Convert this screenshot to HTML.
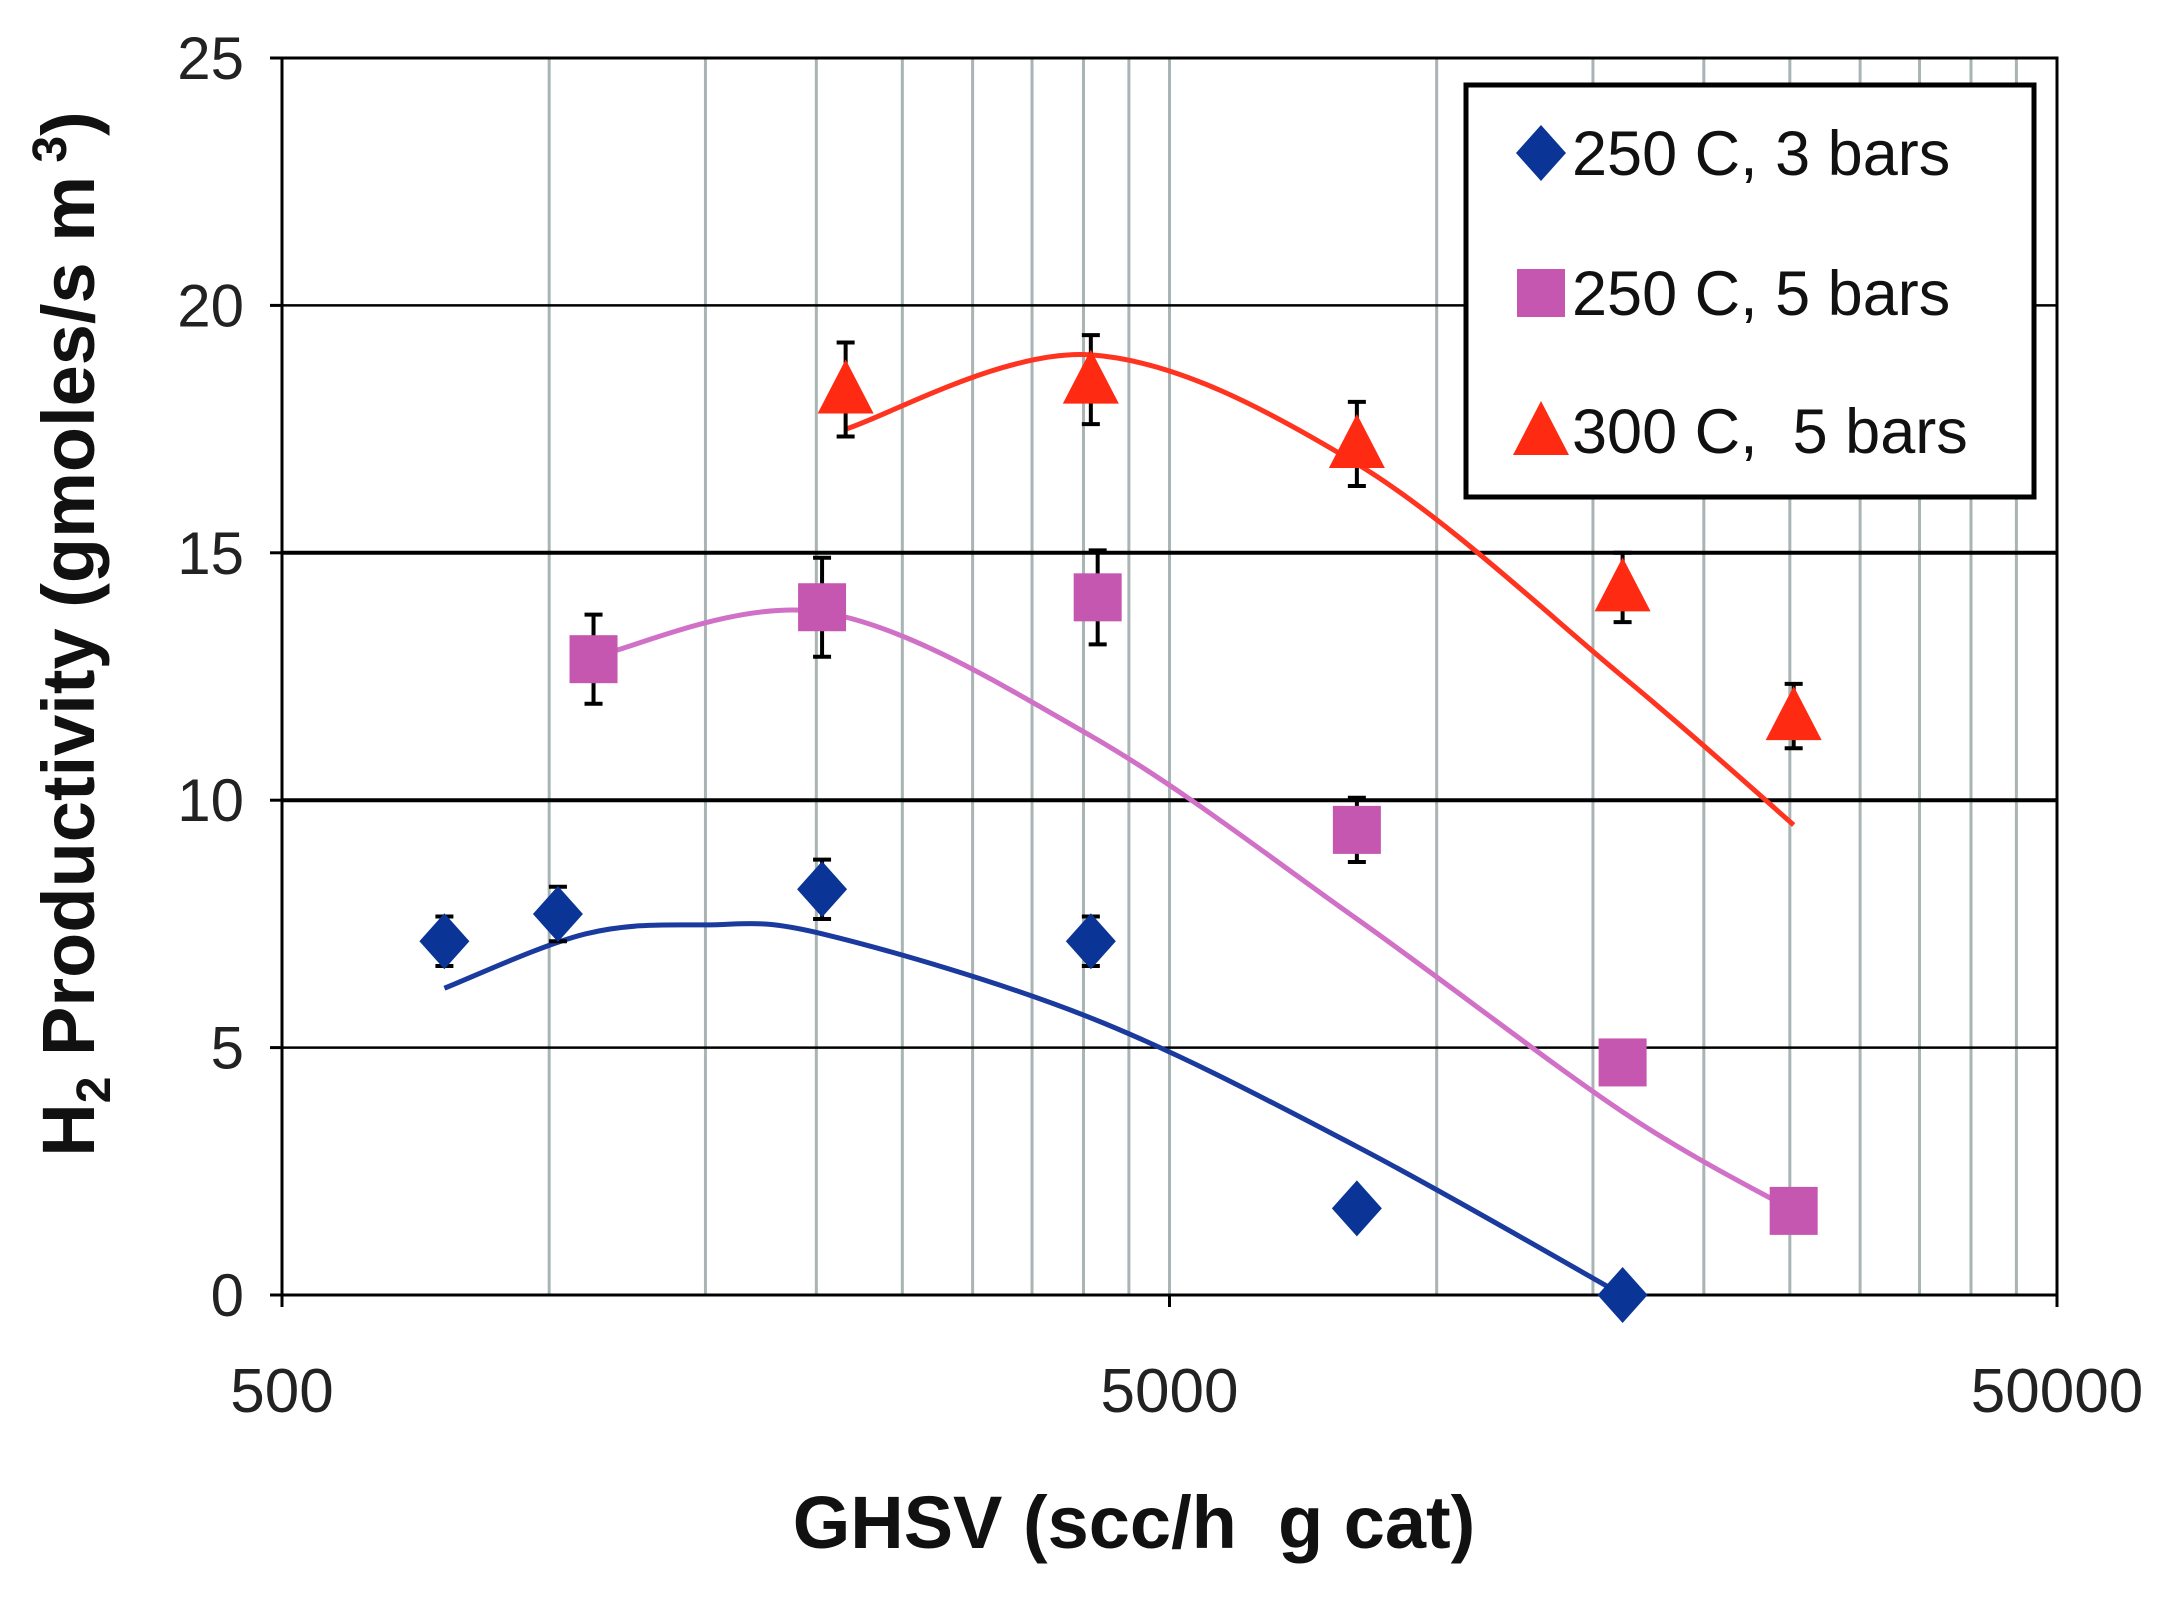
<!DOCTYPE html>
<html><head><meta charset="utf-8"><style>
html,body{margin:0;padding:0;background:#fff;}
svg{display:block;font-family:"Liberation Sans",sans-serif;}
</style></head><body>
<svg id="chart" width="2160" height="1600" viewBox="0 0 2160 1600"></svg>
<script>
const xTicks=[500,5000,50000];
const xTickLabels=["500","5000","50000"];
const yTicks=[0,5,10,15,20,25];
const blueX=[762,1023,2030,4077,8130,16200];
const blueY=[7.15,7.7,8.2,7.15,1.75,0];
const blueErr=[0.5,0.55,0.6,0.5,0,0];
const magX=[1122,2030,4150,8130,16200,25250];
const magY=[12.85,13.9,14.1,9.4,4.7,1.7];
const magErr=[0.9,1.0,0.95,0.65,0,0];
const redX=[2158,4077,8130,16200,25250];
const redY=[18.3,18.5,17.2,14.3,11.7];
const redErr=[0.95,0.9,0.85,0.7,0.65];
const blueCurveX=[762,1100,1500,2030,4077,8130,16200];
const blueCurveY=[6.2,7.3,7.48,7.3,5.6,3.0,0];
const magCurveX=[1122,2030,4077,8130,16200,25250];
const magCurveY=[12.9,13.8,11.3,7.6,3.7,1.7];
const redCurveX=[2158,4077,8130,16200,25250];
const redCurveY=[17.5,19.0,16.8,12.5,9.5];
const gridX=[1000,1500,2000,2500,3000,3500,4000,4500,5000,10000,15000,20000,25000,30000,35000,40000,45000];

const L=282,R=2057,T=58,B=1295;
const NS="http://www.w3.org/2000/svg";
const svg=document.getElementById('chart');
function sx(v){return L+(Math.log10(v)-Math.log10(500))/2*(R-L);}
function sy(v){return B-v/25*(B-T);}
function el(t,a,p){const e=document.createElementNS(NS,t);for(const k in a)e.setAttribute(k,a[k]);(p||svg).appendChild(e);return e;}

const grid=el('g',{});


gridX.forEach(v=>{
  const ln=el('line',{x1:sx(v),x2:sx(v),y1:T,y2:B,stroke:'#a9b4b4','stroke-width':3},grid);
  
  
});
yTicks.forEach(v=>{
  if(v===0||v===25)return;
  const w=(v===10||v===15)?4:2.5;
  const ln=el('line',{x1:L,x2:R,y1:sy(v),y2:sy(v),stroke:'#000','stroke-width':w},grid);
  
  
});
const frame=el('rect',{x:L,y:T,width:R-L,height:B-T,fill:'none',stroke:'#000','stroke-width':3});


yTicks.forEach(v=>{el('line',{x1:L-12,x2:L,y1:sy(v),y2:sy(v),stroke:'#000','stroke-width':3});});
xTicks.forEach(v=>{el('line',{x1:sx(v),x2:sx(v),y1:B,y2:B+12,stroke:'#000','stroke-width':3});});
yTicks.forEach(v=>{
  const t=el('text',{x:L-38,y:sy(v)+21,'text-anchor':'end','font-size':60,fill:'#222'});
  t.textContent=String(v);
  
  
});
xTicks.forEach((v,i)=>{
  const t=el('text',{x:sx(v),y:1412,'text-anchor':'middle','font-size':62,fill:'#222'});
  t.textContent=xTickLabels[i];
  
  
});
const xt=el('text',{x:1134,y:1548,'text-anchor':'middle','font-size':74,'font-weight':'bold',fill:'#111'});
xt.style.whiteSpace='pre';
xt.textContent='GHSV (scc/h  g cat)';


const yt=el('text',{transform:'translate(94,634) rotate(-90)','text-anchor':'middle','font-size':74,'font-weight':'bold',fill:'#111'});
yt.innerHTML='H<tspan font-size="48" dy="16">2</tspan><tspan dy="-16"> Productivity (gmoles/s m</tspan><tspan font-size="48" dy="-28"> 3</tspan><tspan dy="28">)</tspan>';



function curve(xs,ys,color,name){
  const p=xs.map((x,i)=>[sx(x),sy(ys[i])]);
  let d='M'+p[0][0]+','+p[0][1];
  for(let i=0;i<p.length-1;i++){
    const p0=p[Math.max(0,i-1)],p1=p[i],p2=p[i+1],p3=p[Math.min(p.length-1,i+2)];
    const c1=[p1[0]+(p2[0]-p0[0])/6,p1[1]+(p2[1]-p0[1])/6];
    const c2=[p2[0]-(p3[0]-p1[0])/6,p2[1]-(p3[1]-p1[1])/6];
    d+=' C'+c1+' '+c2+' '+p2;
  }
  const e=el('path',{d:d,fill:'none',stroke:color,'stroke-width':5});
  
  
}
curve(blueCurveX,blueCurveY,'#1a3a9e','trend-250c-3bar');
curve(magCurveX,magCurveY,'#d070c6','trend-250c-5bar');
curve(redCurveX,redCurveY,'#ff3420','trend-300c-5bar');

function marker(shape,cx,cy,color,g){
  let e;
  if(shape==='diamond')e=el('polygon',{points:`${cx},${cy-28} ${cx+25},${cy} ${cx},${cy+28} ${cx-25},${cy}`,fill:color},g);
  else if(shape==='square')e=el('rect',{x:cx-24,y:cy-24,width:48,height:48,fill:color},g);
  else e=el('polygon',{points:`${cx},${cy-30} ${cx+28},${cy+24} ${cx-28},${cy+24}`,fill:color},g);
  return e;
}
function series(xs,ys,errs,shape,color,name){
  const g=el('g',{});
  
  
  xs.forEach((x,i)=>{
    const cx=sx(x),cy=sy(ys[i]);
    if(errs[i]>0){
      const e1=sy(ys[i]+errs[i]),e2=sy(ys[i]-errs[i]);
      el('line',{x1:cx,x2:cx,y1:e1,y2:e2,stroke:'#000','stroke-width':4},g);
      el('line',{x1:cx-9,x2:cx+9,y1:e1,y2:e1,stroke:'#000','stroke-width':4},g);
      el('line',{x1:cx-9,x2:cx+9,y1:e2,y2:e2,stroke:'#000','stroke-width':4},g);
    }
    const m=marker(shape,cx,cy,color,g);
    
    
  });
}
series(blueX,blueY,blueErr,'diamond','#0a3597','series-250c-3bar');
series(magX,magY,magErr,'square','#c657b0','series-250c-5bar');
series(redX,redY,redErr,'triangle','#ff2a12','series-300c-5bar');

const lg=el('g',{});


el('rect',{x:1466,y:85,width:568,height:412,fill:'#fff',stroke:'#000','stroke-width':5},lg);
const labels=['250 C, 3 bars','250 C, 5 bars','300 C,  5 bars'];
const shapes=['diamond','square','triangle'];
const cols=['#0a3597','#c657b0','#ff2a12'];
const bases=[175,315,453];
labels.forEach((s,i)=>{
  const g=el('g',{},lg);
  
  
  marker(shapes[i],1541,bases[i]-22,cols[i],g);
  const t=el('text',{x:1572,y:bases[i],'font-size':63,fill:'#111'},g);
  t.style.whiteSpace='pre';
  t.textContent=s;
  
  
});
</script>
</body></html>
